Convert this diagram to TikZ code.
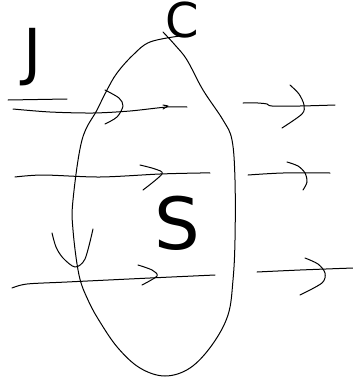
\documentclass[tikz,border=0pt]{standalone}
\usepackage{fontspec}
\setmainfont{DejaVu Sans}
\begin{document}
\begin{tikzpicture}[x=1pt,y=-1pt,
  stroke/.style={line width=1pt,line cap=round,line join=round,black},
  letter/.style={inner sep=0pt,font=\fontsize{#1}{#1}\selectfont}]
\useasboundingbox (0,0) rectangle (353,378);
% oval
\draw[stroke] plot[smooth,tension=0.6] coordinates {
 (163,32) (175,45) (187,60) (203,90) (223,120) (232,140) (235,180) (235,240) (233,280)
 (228,315) (212,345) (190,368) (165,376) (140,368) (118,348) (100,322) (88,300) (79,275)
 (73,230) (73,200) (82,140) (97,110) (107,90) (117,73) (133,55) (150,42) (180,36)};
% texts
\node[letter=62] (J) at (33,57) {J};
\node[letter=48] (C) at (182,20) {C};
\node[letter=72] (S) at (177,223) {S};
% top row
\coordinate (u1) at (8,100); \coordinate (u2) at (67,99);
\draw[stroke] (u1) -- (u2);
\coordinate (a1) at (13,109); \coordinate (a2) at (187,107);
\draw[stroke] plot[smooth] coordinates {(a1) (50,112) (93,113) (130,111) (167,107) (a2)};
\draw[stroke] (163,109) -- (168,106) -- (163,105);
\draw[stroke] plot[smooth] coordinates {(105,90) (119,98) (123,106) (117,117) (105,124)};
\coordinate (b1) at (243,103); \coordinate (b2) at (335,105);
\draw[stroke] plot[smooth] coordinates {(b1) (258,103) (267,104) (272,106) (300,106) (b2)};
\draw[stroke] plot[smooth] coordinates {(290,85) (299,94) (304,105) (302,114) (282,128)};
% middle row
\coordinate (c1) at (15,177); \coordinate (c2) at (210,173);
\draw[stroke] plot[smooth] coordinates {(c1) (43,175) (100,177) (160,174) (200,173) (c2)};
\draw[stroke] plot[smooth] coordinates {(140,165) (155,169) (162,174) (143,190)};
\coordinate (d1) at (248,175); \coordinate (d2) at (330,173);
\draw[stroke] plot[smooth] coordinates {(d1) (283,173) (d2)};
\draw[stroke] plot[smooth] coordinates {(287,162) (298,166) (305,173) (307,182) (303,190)};
% down arrow on left side
\draw[stroke] plot[smooth] coordinates {(52,233) (56,247) (63,258) (75,267) (85,259) (93,229)};
% bottom row
\coordinate (e1) at (12,288); \coordinate (e2) at (215,275);
\draw[stroke] plot[smooth] coordinates {(e1) (27,284) (67,282) (150,278) (e2)};
\draw[stroke] plot[smooth] coordinates {(138,265) (152,270) (157,276) (142,285)};
\coordinate (f1) at (257,272); \coordinate (f2) at (353,268);
\draw[stroke] plot[smooth] coordinates {(f1) (300,270) (f2)};
\draw[stroke] plot[smooth] coordinates {(305,258) (318,264) (325,273) (322,283) (300,295)};
\end{tikzpicture}
\end{document}
